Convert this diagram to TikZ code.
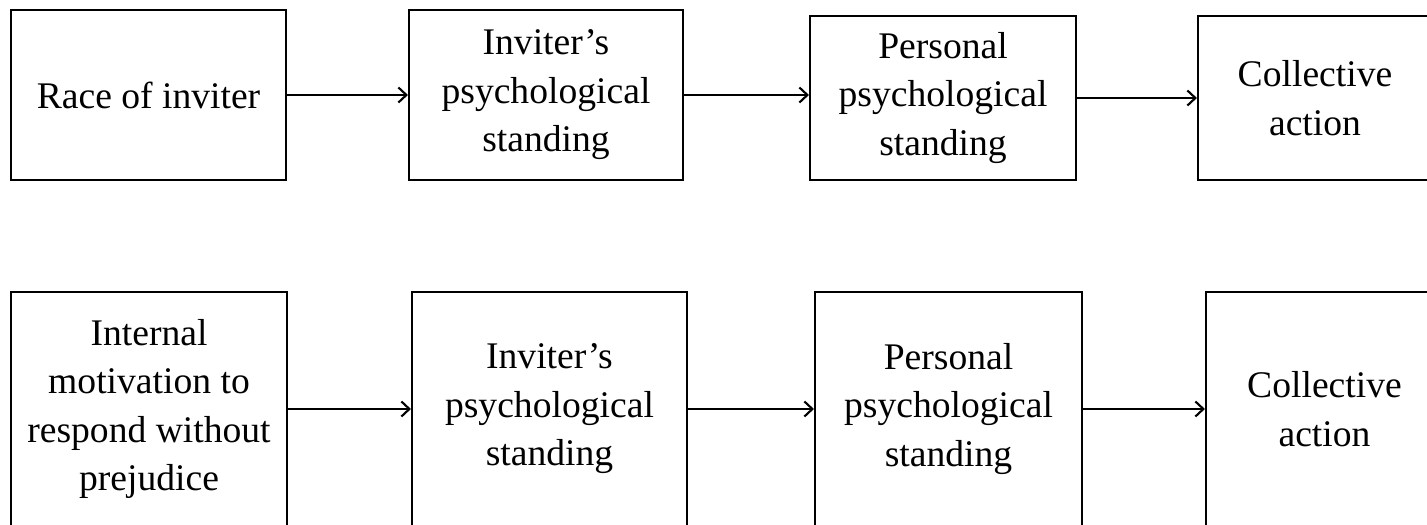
\documentclass[tikz,border=0pt]{standalone}
\usepackage{fontspec}
\setmainfont{Liberation Serif}
\usetikzlibrary{arrows.meta}

\begin{document}
\begin{tikzpicture}[x=0.1mm, y=-0.1mm]
        \tikzset{Factor/.style={shape=rectangle, draw, line width=0.6pt, inner sep=0pt, align=center, font=\fontsize{10.7}{13.8}\selectfont}}
        \tikzset{Link/.style={line width=0.6pt, -{Straight Barb[length=0.8mm, width=1.5mm]}}}
        \useasboundingbox (0,0) rectangle (1427,525);

        % nodes, first model
        \node[Factor, minimum width=27.5mm, minimum height=17mm] (race) at (148.5, 95) {Race of inviter};
        \node[Factor, minimum width=27.4mm, minimum height=17mm] (invA) at (546, 95) {Inviter's\\psychological\\standing};
        \node[Factor, minimum width=26.6mm, minimum height=16.4mm] (persA) at (943, 98) {Personal\\psychological\\standing};
        \node[Factor, minimum width=23.4mm, minimum height=16.4mm] (actA) at (1315, 98) {Collective\\action};

        % nodes, second model
        \node[Factor, minimum width=27.6mm, minimum height=23.4mm] (motiv) at (149, 409) {Internal\\motivation to\\respond without\\prejudice};
        \node[Factor, minimum width=27.5mm, minimum height=23.4mm] (invB) at (549.5, 409) {Inviter's\\psychological\\standing};
        \node[Factor, minimum width=26.7mm, minimum height=23.4mm] (persB) at (948.5, 409) {Personal\\psychological\\standing};
        \node[Factor, minimum width=23.7mm, minimum height=23.4mm] (actB) at (1324.5, 409) {Collective\\action};

        % arrows
        \draw[Link] (race.east) -- (race.east -| invA.west);
        \draw[Link] (invA.east) -- (invA.east -| persA.west);
        \draw[Link] (persA.east) -- (persA.east -| actA.west);

        \draw[Link] (motiv.east) -- (motiv.east -| invB.west);
        \draw[Link] (invB.east) -- (invB.east -| persB.west);
        \draw[Link] (persB.east) -- (persB.east -| actB.west);
    \end{tikzpicture}
\end{document}
